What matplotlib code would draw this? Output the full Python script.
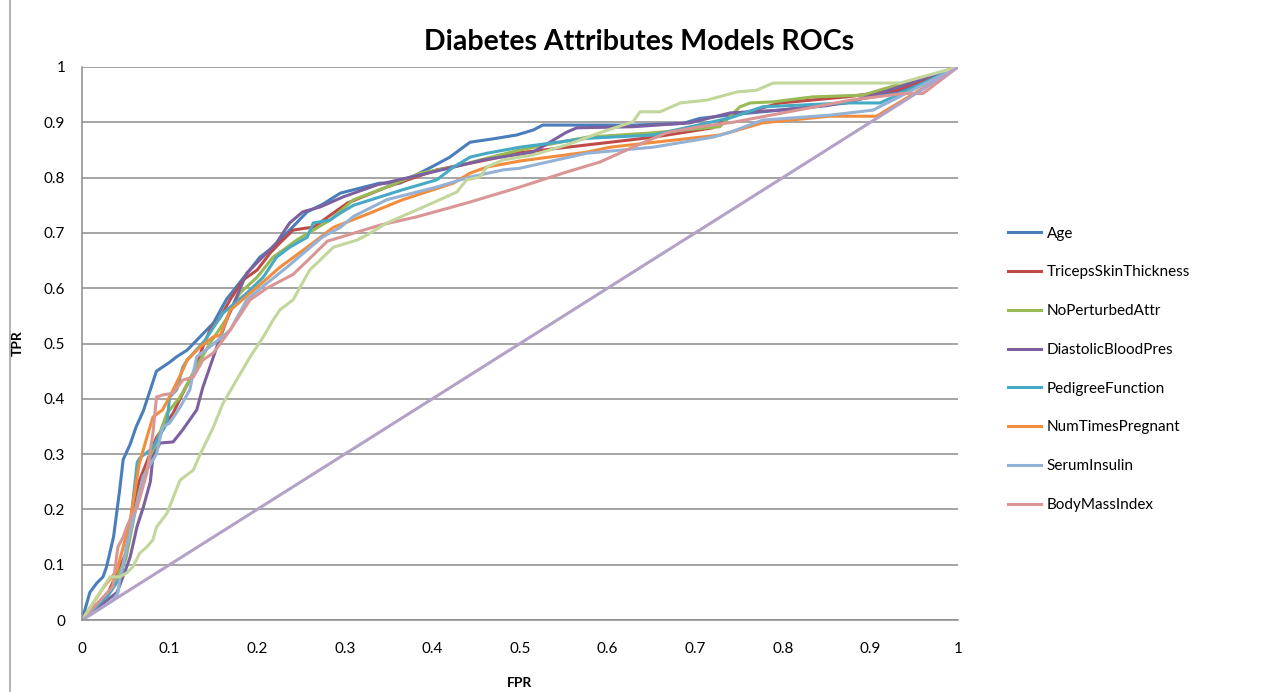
import matplotlib
matplotlib.use("Agg")
import matplotlib.pyplot as plt
from matplotlib.lines import Line2D

plt.rcParams['font.family'] = ['Lato', 'DejaVu Sans']

# ---- data (FPR, TPR) ----
age_fpr = [0, 0.009, 0.017, 0.024, 0.028, 0.036, 0.043, 0.047, 0.055, 0.062, 0.070, 0.085, 0.100, 0.108,
           0.120, 0.131, 0.150, 0.165, 0.184, 0.203, 0.218, 0.234, 0.257, 0.275, 0.295, 0.310, 0.340, 0.363,
           0.400, 0.420, 0.431, 0.443, 0.469, 0.496, 0.515, 0.526, 0.630, 0.686, 0.705, 0.750, 0.850, 0.930, 1.0]
age_tpr = [0, 0.050, 0.067, 0.078, 0.096, 0.150, 0.235, 0.290, 0.318, 0.350, 0.378, 0.450, 0.466, 0.476,
           0.488, 0.506, 0.537, 0.580, 0.618, 0.656, 0.674, 0.700, 0.738, 0.752, 0.772, 0.778, 0.790, 0.790,
           0.820, 0.837, 0.850, 0.864, 0.870, 0.877, 0.886, 0.895, 0.895, 0.898, 0.907, 0.915, 0.930, 0.955, 1.0]

triceps_fpr = [0, 0.030, 0.050, 0.065, 0.085, 0.104, 0.115, 0.127, 0.138, 0.146, 0.158, 0.169, 0.184, 0.200,
               0.215, 0.226, 0.241, 0.257, 0.264, 0.287, 0.303, 0.348, 0.405, 0.462, 0.500, 0.576, 0.652,
               0.720, 0.740, 0.797, 0.873, 0.930, 1.0]
triceps_tpr = [0, 0.050, 0.120, 0.250, 0.330, 0.374, 0.410, 0.447, 0.494, 0.524, 0.548, 0.579, 0.615, 0.633,
               0.664, 0.682, 0.705, 0.709, 0.710, 0.736, 0.754, 0.783, 0.814, 0.832, 0.845, 0.859, 0.873,
               0.890, 0.910, 0.935, 0.946, 0.958, 1.0]

noattr_fpr = [0, 0.030, 0.050, 0.065, 0.080, 0.097, 0.112, 0.127, 0.146, 0.165, 0.180, 0.200, 0.218, 0.234,
              0.245, 0.264, 0.283, 0.310, 0.348, 0.386, 0.424, 0.462, 0.500, 0.576, 0.652, 0.728, 0.751,
              0.763, 0.789, 0.834, 0.891, 1.0]
noattr_tpr = [0, 0.045, 0.110, 0.230, 0.300, 0.374, 0.403, 0.447, 0.500, 0.545, 0.591, 0.620, 0.656, 0.674,
              0.687, 0.705, 0.723, 0.760, 0.783, 0.808, 0.819, 0.835, 0.850, 0.873, 0.881, 0.892, 0.928,
              0.935, 0.937, 0.946, 0.949, 1.0]

diastolic_fpr = [0, 0.040, 0.051, 0.055, 0.063, 0.070, 0.078, 0.081, 0.089, 0.104, 0.115, 0.131, 0.138,
                 0.154, 0.165, 0.188, 0.222, 0.237, 0.252, 0.272, 0.298, 0.337, 0.400, 0.458, 0.515, 0.534,
                 0.553, 0.565, 0.629, 0.694, 0.740, 0.797, 0.873, 0.910, 1.0]
diastolic_tpr = [0, 0.050, 0.096, 0.114, 0.170, 0.204, 0.250, 0.295, 0.320, 0.322, 0.344, 0.380, 0.421,
                 0.494, 0.542, 0.627, 0.682, 0.718, 0.738, 0.747, 0.765, 0.787, 0.810, 0.832, 0.846, 0.864,
                 0.882, 0.890, 0.892, 0.899, 0.917, 0.922, 0.935, 0.952, 1.0]

pedigree_fpr = [0, 0.030, 0.045, 0.055, 0.063, 0.066, 0.080, 0.097, 0.100, 0.108, 0.115, 0.120, 0.140, 0.161,
                0.188, 0.207, 0.222, 0.237, 0.257, 0.264, 0.283, 0.295, 0.310, 0.366, 0.405, 0.424, 0.443,
                0.462, 0.500, 0.576, 0.652, 0.740, 0.777, 0.873, 0.911, 1.0]
pedigree_tpr = [0, 0.045, 0.080, 0.170, 0.285, 0.293, 0.310, 0.356, 0.403, 0.416, 0.457, 0.470, 0.505, 0.555,
                0.591, 0.620, 0.656, 0.674, 0.692, 0.718, 0.723, 0.736, 0.750, 0.778, 0.796, 0.819, 0.837,
                0.844, 0.855, 0.871, 0.877, 0.908, 0.928, 0.935, 0.935, 1.0]

pregnant_fpr = [0, 0.025, 0.040, 0.055, 0.065, 0.074, 0.081, 0.092, 0.104, 0.115, 0.120, 0.135, 0.150,
                0.158, 0.169, 0.200, 0.226, 0.257, 0.287, 0.329, 0.366, 0.424, 0.443, 0.462, 0.500, 0.576,
                0.603, 0.728, 0.740, 0.777, 0.854, 0.907, 1.0]
pregnant_tpr = [0, 0.060, 0.090, 0.180, 0.280, 0.330, 0.367, 0.380, 0.416, 0.452, 0.470, 0.494, 0.512,
                0.515, 0.560, 0.602, 0.638, 0.674, 0.710, 0.736, 0.760, 0.790, 0.808, 0.819, 0.830, 0.846,
                0.855, 0.877, 0.882, 0.899, 0.911, 0.911, 1.0]

insulin_fpr = [0, 0.035, 0.041, 0.043, 0.051, 0.058, 0.070, 0.085, 0.092, 0.100, 0.112, 0.123, 0.131, 0.146,
               0.169, 0.188, 0.211, 0.234, 0.257, 0.275, 0.295, 0.310, 0.348, 0.405, 0.443, 0.481, 0.500,
               0.576, 0.652, 0.720, 0.740, 0.777, 0.854, 0.903, 1.0]
insulin_tpr = [0, 0.035, 0.049, 0.072, 0.132, 0.180, 0.260, 0.300, 0.349, 0.356, 0.385, 0.416, 0.476, 0.494,
               0.524, 0.579, 0.609, 0.638, 0.669, 0.693, 0.710, 0.730, 0.760, 0.783, 0.801, 0.814, 0.817,
               0.844, 0.855, 0.873, 0.882, 0.904, 0.913, 0.922, 1.0]

bmi_fpr = [0, 0.035, 0.041, 0.047, 0.051, 0.058, 0.063, 0.074, 0.081, 0.085, 0.092, 0.104, 0.115, 0.127,
           0.138, 0.150, 0.169, 0.192, 0.211, 0.241, 0.264, 0.280, 0.303, 0.340, 0.382, 0.439, 0.496, 0.553,
           0.591, 0.629, 0.667, 0.705, 0.743, 0.800, 0.877, 0.937, 0.960, 1.0]
bmi_tpr = [0, 0.060, 0.132, 0.150, 0.168, 0.193, 0.204, 0.266, 0.338, 0.403, 0.407, 0.410, 0.434, 0.439,
           0.470, 0.483, 0.524, 0.579, 0.600, 0.625, 0.660, 0.685, 0.696, 0.714, 0.729, 0.754, 0.781, 0.810,
           0.828, 0.855, 0.881, 0.892, 0.900, 0.917, 0.940, 0.952, 0.952, 1.0]

# two extra series without legend entries
extra_fpr = [0, 0.032, 0.043, 0.051, 0.058, 0.066, 0.074, 0.081, 0.085, 0.097, 0.112, 0.127, 0.135, 0.150,
             0.161, 0.192, 0.207, 0.218, 0.226, 0.241, 0.249, 0.260, 0.287, 0.314, 0.325, 0.348, 0.400,
             0.428, 0.439, 0.454, 0.462, 0.481, 0.515, 0.553, 0.591, 0.629, 0.637, 0.660, 0.683, 0.713,
             0.748, 0.770, 0.789, 0.934, 1.0]
extra_tpr = [0, 0.078, 0.078, 0.085, 0.096, 0.121, 0.132, 0.145, 0.168, 0.193, 0.253, 0.271, 0.300, 0.349,
             0.392, 0.476, 0.512, 0.542, 0.561, 0.579, 0.602, 0.633, 0.674, 0.687, 0.696, 0.718, 0.754,
             0.774, 0.796, 0.801, 0.819, 0.832, 0.841, 0.859, 0.881, 0.901, 0.919, 0.919, 0.935, 0.940,
             0.955, 0.958, 0.971, 0.971, 1.0]
random_fpr = [0, 1]
random_tpr = [0, 1]

labels = ["Age", "TricepsSkinThickness", "NoPerturbedAttr", "DiastolicBloodPres",
          "PedigreeFunction", "NumTimesPregnant", "SerumInsulin", "BodyMassIndex"]
colors = ["#4A7EBB", "#BE4B48", "#98B954", "#7D60A0", "#46AAC5", "#F38D3E", "#94B2D6", "#DA9694"]

series = [
    (age_fpr, age_tpr), (triceps_fpr, triceps_tpr), (noattr_fpr, noattr_tpr),
    (diastolic_fpr, diastolic_tpr), (pedigree_fpr, pedigree_tpr), (pregnant_fpr, pregnant_tpr),
    (insulin_fpr, insulin_tpr), (bmi_fpr, bmi_tpr),
]

W, H = 1264, 692
fig = plt.figure(figsize=(W / 100, H / 100), dpi=100)
ax = fig.add_axes([82 / W, 1 - 620 / H, (958 - 82) / W, (620 - 67) / H])

lw = 2.2
for (xs, ys), lab, col in zip(series, labels, colors):
    ax.plot(xs, ys, color=col, lw=lw, label=lab, solid_joinstyle="round")
ax.plot(extra_fpr, extra_tpr, color="#C3D69B", lw=lw, label="_nolegend_")
ax.plot(random_fpr, random_tpr, color="#B3A2C7", lw=lw, label="_nolegend_")

ax.set_xlim(0, 1)
ax.set_ylim(0, 1)
ax.set_xticks([i / 10 for i in range(11)])
ax.set_yticks([i / 10 for i in range(11)])
ax.set_xticklabels(["0"] + [f"{i / 10:.1f}" for i in range(1, 10)] + ["1"])
ax.set_yticklabels(["0"] + [f"{i / 10:.1f}" for i in range(1, 10)] + ["1"])
ax.tick_params(length=0, labelsize=11, colors="black")
ax.tick_params(axis="x", pad=16)
ax.tick_params(axis="y", pad=12)
ax.grid(axis="y", color="#8C8C8C", lw=1.1)
ax.set_axisbelow(True)
for side in ("top", "right"):
    ax.spines[side].set_visible(False)
for side in ("left", "bottom"):
    ax.spines[side].set_color("#8C8C8C")
    ax.spines[side].set_linewidth(1.1)

fig.text(639 / W, 1 - 42 / H, "Diabetes Attributes Models ROCs", ha="center", va="center",
         fontsize=20.5, fontweight="bold")
fig.text(18 / W, 1 - 343 / H, "TPR", rotation=90, ha="center", va="center", fontsize=10, fontweight="bold")
fig.text(520 / W, 1 - 683 / H, "FPR", ha="center", va="center", fontsize=10, fontweight="bold")

# chart frame edge on the left
fig.add_artist(Line2D([10 / W, 10 / W], [0, 1], transform=fig.transFigure, color="#A6A6A6", lw=1.2))

fig.legend(loc="upper left", bbox_to_anchor=(1000 / W, 1 - 219 / H), frameon=False,
           fontsize=11, handlelength=2.2, handletextpad=0.35, labelspacing=1.62, borderpad=0)

fig.savefig("out.png", dpi=100)
